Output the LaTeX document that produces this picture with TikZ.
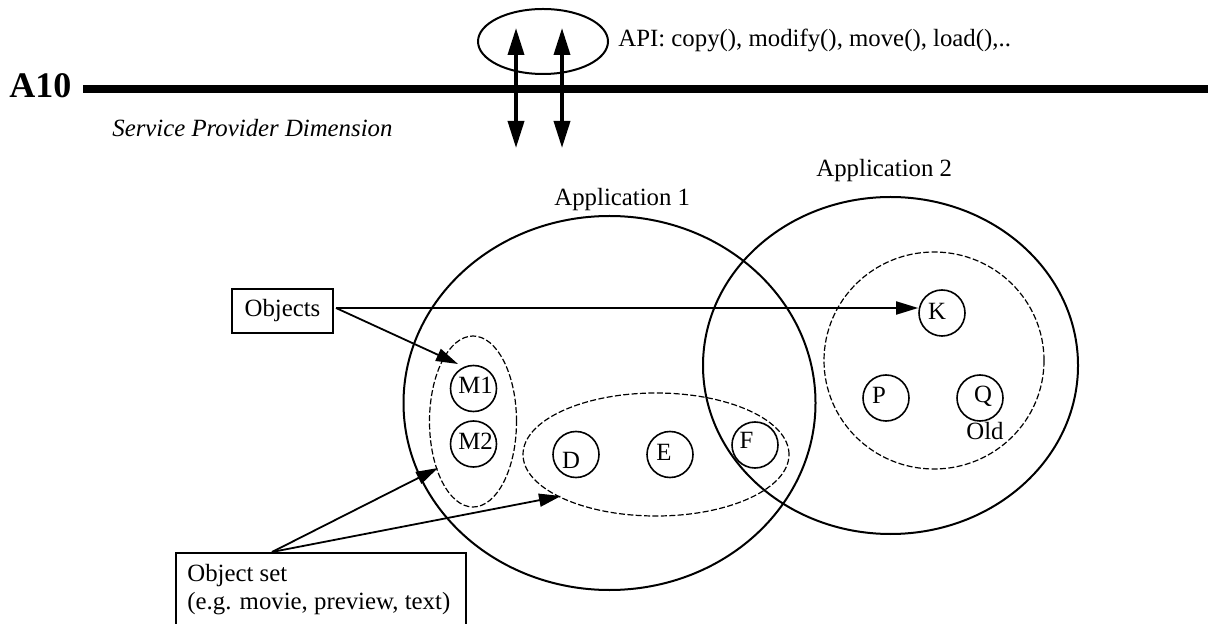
\documentclass[tikz,border=0pt]{standalone}
\usepackage{fontspec}
\setmainfont{Liberation Serif}
\usetikzlibrary{arrows.meta,shapes.geometric}
\begin{document}
\begin{tikzpicture}[x=0.5pt,y=-0.5pt,
  txt/.style={font=\fontsize{12.4}{15}\selectfont, inner sep=0pt},
  circ/.style={draw, circle, minimum size=23pt, inner sep=0pt, line width=0.8pt},
  bigell/.style={draw, ellipse, inner sep=0pt, line width=1pt},
  dashell/.style={draw, ellipse, inner sep=0pt, line width=0.6pt, dash pattern=on 3pt off 1.2pt},
  arr/.style={-{Triangle[length=11pt,width=6.5pt]}, line width=0.9pt},
  apiarr/.style={{Triangle[length=13.5pt,width=8pt]}-{Triangle[length=13.5pt,width=8pt]}, line width=1.8pt},
  framebox/.style={draw, line width=0.9pt, inner sep=0pt}
]
\useasboundingbox (0,0) rectangle (1208,624);

% A10 line
\node[txt, font=\fontsize{18}{20}\selectfont\bfseries, anchor=base west] (a10) at (9,98) {A10};
\coordinate (lineL) at (83,89);
\coordinate (lineR) at (1212,89);
\draw[line width=4pt] (lineL) -- (lineR);
\node[txt, font=\fontsize{12.4}{15}\selectfont\itshape, anchor=base west] (spd) at (112,137) {Service Provider Dimension};

% API
\node[bigell, minimum width=65pt, minimum height=32.5pt] (api) at (543,41.5) {};
\coordinate (a1t) at (516,28); \coordinate (a1b) at (516,148);
\coordinate (a2t) at (562,28); \coordinate (a2b) at (562,148);
\draw[apiarr] (a1b) -- (a1t);
\draw[apiarr] (a2b) -- (a2t);
\node[txt, anchor=base west] (apitext) at (618,47) {API: copy(), modify(), move(), load(),..};

% Applications
\node[bigell, minimum width=206pt, minimum height=187pt] (app1) at (609.5,403) {};
\node[bigell, minimum width=187.5pt, minimum height=168.5pt] (app2) at (890.5,365.5) {};
\node[txt, anchor=base west] (app1lab) at (554,206) {Application 1};
\node[txt, anchor=base west] (app2lab) at (816,177) {Application 2};

% object sets
\node[dashell, minimum width=110pt, minimum height=108.5pt] (setK) at (934,360.5) {};
\node[dashell, minimum width=43.5pt, minimum height=85.5pt] (setM) at (473,421.5) {};
\node[dashell, minimum width=133pt, minimum height=61.5pt] (setD) at (656,454.5) {};

% objects
\node[circ] (M1) at (473.5,388.5) {};
\node[circ] (M2) at (473.5,444) {};
\node[circ] (D) at (576,454.5) {};
\node[circ] (E) at (670,454.5) {};
\node[circ] (F) at (755,445) {};
\node[circ] (K) at (942,313) {};
\node[circ] (P) at (886,398) {};
\node[circ] (Q) at (980,398) {};

\node[txt] (M1lab) at (475.5,385) {M1};
\node[txt] (M2lab) at (475.5,441) {M2};
\node[txt] (Dlab) at (571,460) {D};
\node[txt] (Elab) at (664,452) {E};
\node[txt] (Flab) at (746.5,440.5) {F};
\node[txt] (Klab) at (937,311) {K};
\node[txt] (Plab) at (879,395) {P};
\node[txt] (Qlab) at (983,396) {Q};
\node[txt, anchor=base west] (old) at (966,439) {Old};

% Objects box
\node[framebox, txt, minimum width=50.5pt, minimum height=22pt] (objects) at (282.5,311) {Objects};
\coordinate (obstart) at (336,308);
\coordinate (m1tip) at (458,364);
\draw[arr] (obstart) -- (obstart -| K.west);
\draw[arr] (obstart) -- (m1tip);

% Object set box
\node[framebox, anchor=north west, minimum width=145pt, minimum height=50pt] (objset) at (175,552) {};
\node[txt, anchor=base west] (os1) at (187,581.5) {Object set};
\node[txt, anchor=base west] (os2) at (187,609) {(e.g. movie, preview, text)};
\coordinate (osstart) at (272,552);
\coordinate (mtip) at (438,468);
\coordinate (deftip) at (561,496);
\draw[arr] (osstart) -- (mtip);
\draw[arr] (osstart) -- (deftip);
\end{tikzpicture}
\end{document}
